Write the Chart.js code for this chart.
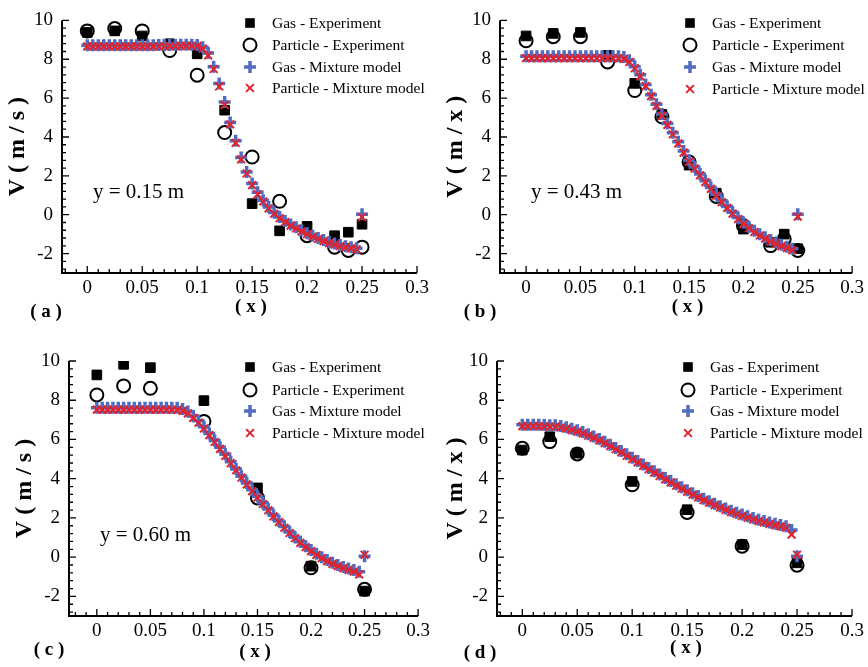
<!DOCTYPE html>
<html>
<head>
<meta charset="utf-8">
<script src="https://cdn.jsdelivr.net/npm/chart.js@4.4.1/dist/chart.umd.min.js"></script>
<style>
  html, body { margin: 0; padding: 0; background: #fff; }
  #wrap { position: relative; width: 868px; height: 667px; }
  #wrap canvas { position: absolute; }
</style>
</head>
<body>
<div id="wrap">
  <canvas id="chartA" width="434" height="330" style="left:0;top:0"></canvas>
  <canvas id="chartB" width="434" height="330" style="left:434px;top:0"></canvas>
  <canvas id="chartC" width="434" height="337" style="left:0;top:330px"></canvas>
  <canvas id="chartD" width="434" height="337" style="left:434px;top:330px"></canvas>
</div>
<script>
// x positions of the mixture model nodes
const MODEL_X = [
  0, 0.005, 0.01, 0.015, 0.02, 0.025, 0.03, 0.035, 0.04, 0.045,
  0.05, 0.055, 0.06, 0.065, 0.07, 0.075, 0.08, 0.085, 0.09, 0.095,
  0.1, 0.105, 0.11, 0.115, 0.12, 0.125, 0.13, 0.135, 0.14, 0.145,
  0.15, 0.155, 0.16, 0.165, 0.17, 0.175, 0.18, 0.185, 0.19, 0.195,
  0.2, 0.205, 0.21, 0.215, 0.22, 0.225, 0.23, 0.235, 0.24, 0.245,
  0.25
];
// measurement stations
const EXP_X_AB = [0, 0.025, 0.05, 0.075, 0.1, 0.125, 0.15, 0.175, 0.2, 0.225, 0.2375, 0.25];
const EXP_X_CD = [0, 0.025, 0.05, 0.1, 0.15, 0.2, 0.25];

const X_TICKS = [0, 0.05, 0.1, 0.15, 0.2, 0.25, 0.3];
const Y_TICKS = [-2, 0, 2, 4, 6, 8, 10];

// (a) y = 0.15 m
const gasExpA  = [9.38, 9.46, 9.2, 8.8, 8.28, 5.38, 0.57, -0.83, -0.6, -1.08, -0.9, -0.49];
const partExpA = [9.46, 9.58, 9.46, 8.45, 7.18, 4.23, 2.97, 0.69, -1.08, -1.67, -1.84, -1.67];
const gasModelA = [
  8.72, 8.72, 8.72, 8.72, 8.72, 8.72, 8.72, 8.72, 8.72, 8.72,
  8.72, 8.72, 8.72, 8.73, 8.73, 8.74, 8.74, 8.75, 8.75, 8.75,
  8.74, 8.62, 8.32, 7.62, 6.75, 5.8, 4.75, 3.8, 2.95, 2.2,
  1.6, 1.15, 0.75, 0.4, 0.12, -0.12, -0.32, -0.5, -0.65, -0.8,
  -0.95, -1.08, -1.2, -1.3, -1.4, -1.48, -1.56, -1.62, -1.67, -1.72,
  0.02
];
const partModelA = [
  8.66, 8.66, 8.66, 8.66, 8.66, 8.66, 8.66, 8.66, 8.66, 8.66,
  8.66, 8.66, 8.66, 8.67, 8.67, 8.68, 8.68, 8.69, 8.69, 8.69,
  8.68, 8.55, 8.2, 7.5, 6.6, 5.65, 4.65, 3.7, 2.85, 2.12,
  1.52, 1.05, 0.68, 0.33, 0.05, -0.18, -0.38, -0.56, -0.71, -0.86,
  -1.0, -1.13, -1.25, -1.36, -1.46, -1.54, -1.62, -1.68, -1.73, -1.78,
  -0.12
];

// (b) y = 0.43 m
const gasExpB  = [9.2, 9.33, 9.38, 8.2, 6.76, 5.16, 2.55, 1.11, -0.74, -1.42, -1.0, -1.75];
const partExpB = [8.95, 9.16, 9.16, 7.86, 6.39, 5.04, 2.71, 0.94, -0.57, -1.59, -1.25, -1.84];
const gasModelB = [
  8.15, 8.15, 8.15, 8.15, 8.15, 8.15, 8.15, 8.15, 8.15, 8.15,
  8.15, 8.15, 8.15, 8.15, 8.15, 8.15, 8.15, 8.15, 8.12, 7.95,
  7.62, 7.2, 6.7, 6.18, 5.68, 5.18, 4.7, 4.22, 3.75, 3.28,
  2.8, 2.45, 2.1, 1.75, 1.4, 1.05, 0.72, 0.42, 0.13, -0.15,
  -0.4, -0.62, -0.82, -1.0, -1.16, -1.3, -1.43, -1.55, -1.65, -1.75,
  0.02
];
const partModelB = [
  8.06, 8.06, 8.06, 8.06, 8.06, 8.06, 8.06, 8.06, 8.06, 8.06,
  8.06, 8.06, 8.06, 8.06, 8.06, 8.06, 8.06, 8.05, 8.02, 7.86,
  7.54, 7.12, 6.62, 6.1, 5.6, 5.1, 4.62, 4.14, 3.67, 3.2,
  2.73, 2.38, 2.03, 1.68, 1.33, 0.98, 0.65, 0.35, 0.06, -0.22,
  -0.47, -0.69, -0.89, -1.07, -1.23, -1.37, -1.5, -1.62, -1.72, -1.82,
  -0.1
];

// (c) y = 0.60 m
const gasExpC  = [9.29, 9.83, 9.66, 7.98, 3.53, -0.46, -1.73];
const partExpC = [8.27, 8.73, 8.61, 6.92, 3.02, -0.54, -1.64];
const gasModelC = [
  7.62, 7.62, 7.62, 7.62, 7.62, 7.62, 7.62, 7.62, 7.62, 7.62,
  7.62, 7.62, 7.62, 7.62, 7.62, 7.62, 7.55, 7.42, 7.2, 6.95,
  6.65, 6.3, 5.95, 5.6, 5.24, 4.86, 4.5, 4.13, 3.78, 3.43,
  3.1, 2.77, 2.45, 2.14, 1.84, 1.56, 1.28, 1.02, 0.78, 0.56,
  0.36, 0.17, 0.0, -0.15, -0.28, -0.4, -0.5, -0.58, -0.66, -0.74,
  0.05
];
const partModelC = [
  7.52, 7.52, 7.52, 7.52, 7.52, 7.52, 7.52, 7.52, 7.52, 7.52,
  7.52, 7.52, 7.52, 7.52, 7.52, 7.51, 7.46, 7.33, 7.1, 6.86,
  6.56, 6.22, 5.87, 5.52, 5.16, 4.79, 4.43, 4.06, 3.71, 3.37,
  3.04, 2.71, 2.39, 2.08, 1.79, 1.5, 1.23, 0.97, 0.73, 0.51,
  0.31, 0.12, -0.05, -0.2, -0.34, -0.46, -0.56, -0.65, -0.74, -0.88,
  0.12
];

// (d)
const gasExpD  = [5.46, 6.14, 5.3, 3.86, 2.42, 0.64, -0.29];
const partExpD = [5.55, 5.89, 5.26, 3.69, 2.28, 0.56, -0.41];
const gasModelD = [
  6.75, 6.75, 6.75, 6.75, 6.74, 6.73, 6.72, 6.68, 6.62, 6.55,
  6.47, 6.38, 6.27, 6.15, 6.02, 5.88, 5.73, 5.57, 5.41, 5.24,
  5.07, 4.9, 4.72, 4.55, 4.38, 4.21, 4.04, 3.88, 3.72, 3.56,
  3.41, 3.26, 3.12, 2.98, 2.85, 2.72, 2.6, 2.48, 2.37, 2.27,
  2.17, 2.08, 1.99, 1.91, 1.84, 1.77, 1.7, 1.64, 1.57, 1.38,
  0.05
];
const partModelD = [
  6.68, 6.68, 6.68, 6.68, 6.67, 6.66, 6.65, 6.61, 6.55, 6.48,
  6.4, 6.31, 6.2, 6.08, 5.95, 5.81, 5.66, 5.5, 5.34, 5.17,
  5.0, 4.83, 4.65, 4.48, 4.31, 4.14, 3.97, 3.81, 3.65, 3.49,
  3.34, 3.19, 3.05, 2.91, 2.78, 2.65, 2.53, 2.41, 2.3, 2.2,
  2.1, 2.01, 1.92, 1.84, 1.77, 1.7, 1.63, 1.57, 1.5, 1.15,
  0.12
];

const SERIES_NAMES = ['Gas - Experiment', 'Particle - Experiment', 'Gas - Mixture model', 'Particle - Mixture model'];
const SERIF = "'Liberation Serif', 'Times New Roman', serif";
const BLUE = '#4f6cc0';
const RED = '#e0232f';

Chart.defaults.color = '#000';
Chart.defaults.font.family = SERIF;

const markerStyles = [
  { pointStyle: 'rect', pointRadius: 6.8, pointBackgroundColor: '#000', pointBorderColor: '#000', pointBorderWidth: 1 },
  { pointStyle: 'circle', pointRadius: 6.5, pointBackgroundColor: 'rgba(0,0,0,0)', pointBorderColor: '#000', pointBorderWidth: 2 },
  { pointStyle: 'cross', pointRadius: 6, pointBackgroundColor: BLUE, pointBorderColor: BLUE, pointBorderWidth: 3.5 },
  { pointStyle: 'crossRot', pointRadius: 5.5, pointBackgroundColor: RED, pointBorderColor: RED, pointBorderWidth: 2 }
];

function pairs(xs, ys) {
  return xs.map((x, i) => ({ x: x, y: ys[i] }));
}

// little legend swatches, same look as the markers
function drawSwatch(ctx, kind, cx, cy) {
  ctx.save();
  if (kind === 0) {
    ctx.fillStyle = '#000';
    ctx.fillRect(cx - 4.8, cy - 4.8, 9.6, 9.6);
  } else if (kind === 1) {
    ctx.strokeStyle = '#000'; ctx.lineWidth = 2;
    ctx.beginPath(); ctx.arc(cx, cy, 6.5, 0, Math.PI * 2); ctx.stroke();
  } else if (kind === 2) {
    ctx.strokeStyle = BLUE; ctx.lineWidth = 3.5;
    ctx.beginPath();
    ctx.moveTo(cx - 6, cy); ctx.lineTo(cx + 6, cy);
    ctx.moveTo(cx, cy - 6); ctx.lineTo(cx, cy + 6);
    ctx.stroke();
  } else {
    ctx.strokeStyle = RED; ctx.lineWidth = 2;
    ctx.beginPath();
    ctx.moveTo(cx - 3.9, cy - 3.9); ctx.lineTo(cx + 3.9, cy + 3.9);
    ctx.moveTo(cx + 3.9, cy - 3.9); ctx.lineTo(cx - 3.9, cy + 3.9);
    ctx.stroke();
  }
  ctx.restore();
}

// axis lines with inward ticks, legend, station note and panel tag
const panelDecor = {
  id: 'panelDecor',
  afterDraw(chart, args, opts) {
    const { ctx, chartArea: a } = chart;
    const xs = chart.scales.x, ys = chart.scales.y;
    ctx.save();
    ctx.strokeStyle = '#000';
    ctx.lineWidth = 2;
    ctx.beginPath();
    ctx.moveTo(a.left, a.top);
    ctx.lineTo(a.left, a.bottom);
    ctx.lineTo(a.right, a.bottom);
    ctx.stroke();

    ctx.lineWidth = 1.3;
    ctx.beginPath();
    for (let k = -2; k <= 30; k++) {
      const px = xs.getPixelForValue(k / 100);
      const len = k % 5 === 0 ? 7 : 4;
      ctx.moveTo(px, a.bottom);
      ctx.lineTo(px, a.bottom - len);
    }
    for (let k = -7; k <= 25; k++) {
      const py = ys.getPixelForValue(k * 0.4);
      const len = k % 5 === 0 ? 7 : 4;
      ctx.moveTo(a.left, py);
      ctx.lineTo(a.left + len, py);
    }
    ctx.stroke();

    // legend
    ctx.fillStyle = '#000';
    ctx.textBaseline = 'middle';
    ctx.textAlign = 'left';
    ctx.font = '15.5px ' + SERIF;
    SERIES_NAMES.forEach((name, i) => {
      const ry = opts.legendRows[i];
      drawSwatch(ctx, i, opts.legendX, ry);
      ctx.fillText(name, opts.legendX + 22, ry + 1);
    });

    if (opts.note) {
      ctx.font = '21px ' + SERIF;
      ctx.fillText(opts.note, opts.noteX, opts.noteY);
    }
    ctx.font = 'bold 19px ' + SERIF;
    ctx.textAlign = 'center';
    ctx.fillText(opts.tag, opts.tagX, opts.tagY);
    ctx.restore();
  }
};

function makePanel(id, cfg) {
  const H = document.getElementById(id).height;
  const W = document.getElementById(id).width;
  const datasets = [
    { label: SERIES_NAMES[3], data: pairs(MODEL_X, cfg.partModel), order: 0, ...markerStyles[3] },
    { label: SERIES_NAMES[2], data: pairs(MODEL_X, cfg.gasModel), order: 1, ...markerStyles[2] },
    { label: SERIES_NAMES[1], data: pairs(cfg.expX, cfg.partExp), order: 2, ...markerStyles[1] },
    { label: SERIES_NAMES[0], data: pairs(cfg.expX, cfg.gasExp), order: 3, ...markerStyles[0] }
  ];
  return new Chart(document.getElementById(id), {
    type: 'scatter',
    data: { datasets: datasets },
    options: {
      responsive: false,
      animation: false,
      events: [],
      layout: { padding: { left: 0, top: cfg.area.top, right: W - cfg.area.right, bottom: 0 } },
      plugins: {
        legend: { display: false },
        tooltip: { enabled: false },
        panelDecor: cfg.decor
      },
      scales: {
        x: {
          type: 'linear',
          min: cfg.xMin,
          max: 0.3,
          afterBuildTicks: s => { s.ticks = X_TICKS.map(v => ({ value: v })); },
          afterFit: s => { s.height = H - cfg.area.bottom; },
          grid: { display: false, drawTicks: false },
          border: { display: false },
          ticks: { font: { size: 19 }, padding: 4, maxRotation: 0, callback: v => String(v) },
          title: {
            display: true, text: '\u2003\u2009( x )',
            font: { size: 19, weight: 'bold' },
            padding: { top: 0, bottom: cfg.xTitlePad }
          }
        },
        y: {
          type: 'linear',
          min: -3,
          max: 10,
          afterBuildTicks: s => { s.ticks = Y_TICKS.map(v => ({ value: v })); },
          afterFit: s => { s.width = cfg.area.left; },
          grid: { display: false, drawTicks: false },
          border: { display: false },
          ticks: { font: { size: 19 }, padding: 9, callback: v => String(v) },
          title: {
            display: true, text: cfg.yTitle,
            font: { size: 24, weight: 'bold' },
            padding: { top: cfg.yTitlePad, bottom: 0 }
          }
        }
      }
    },
    plugins: [panelDecor]
  });
}

makePanel('chartA', {
  area: { left: 62, top: 16, right: 417, bottom: 273 }, xMin: -0.023,
  expX: EXP_X_AB, gasExp: gasExpA, partExp: partExpA, gasModel: gasModelA, partModel: partModelA,
  yTitle: 'V ( m / s )', xTitlePad: 11.6, yTitlePad: 3.6,
  decor: { legendX: 250, legendRows: [23, 45, 67, 88], note: 'y = 0.15 m', noteX: 93, noteY: 192, tag: '( a )', tagX: 46, tagY: 312 }
});
makePanel('chartB', {
  area: { left: 66, top: 16, right: 420, bottom: 273 }, xMin: -0.024,
  expX: EXP_X_AB, gasExp: gasExpB, partExp: partExpB, gasModel: gasModelB, partModel: partModelB,
  yTitle: 'V ( m / x )', xTitlePad: 11.6, yTitlePad: 7.6,
  decor: { legendX: 256, legendRows: [23, 45, 67, 89], note: 'y = 0.43 m', noteX: 97, noteY: 192, tag: '( b )', tagX: 46, tagY: 312 }
});
makePanel('chartC', {
  area: { left: 69, top: 31, right: 424, bottom: 286 }, xMin: -0.026,
  expX: EXP_X_CD, gasExp: gasExpC, partExp: partExpC, gasModel: gasModelC, partModel: partModelC,
  yTitle: 'V ( m / s )', xTitlePad: 3.6, yTitlePad: 10.6,
  decor: { legendX: 250, legendRows: [37, 60, 81, 103], note: 'y = 0.60 m', noteX: 100, noteY: 205, tag: '( c )', tagX: 49, tagY: 320 }
});
makePanel('chartD', {
  area: { left: 63, top: 31, right: 418, bottom: 286 }, xMin: -0.023,
  expX: EXP_X_CD, gasExp: gasExpD, partExp: partExpD, gasModel: gasModelD, partModel: partModelD,
  yTitle: 'V ( m / x )', xTitlePad: 7.6, yTitlePad: 7.6,
  decor: { legendX: 254, legendRows: [37, 60, 81, 103], note: '', tag: '( d )', tagX: 46, tagY: 323 }
});
</script>
</body>
</html>
